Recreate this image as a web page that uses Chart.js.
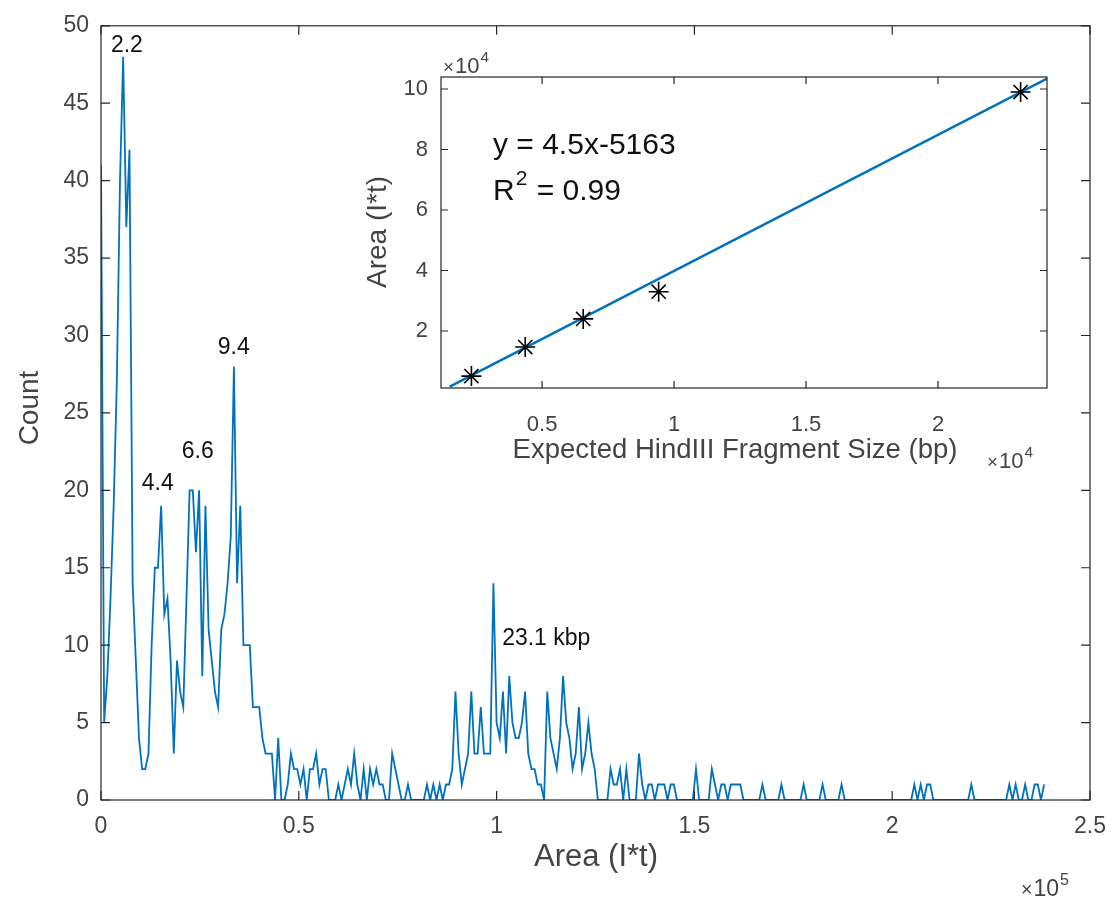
<!DOCTYPE html>
<html>
<head>
<meta charset="utf-8">
<title>HindIII fragment area histogram</title>
<script src="https://cdn.jsdelivr.net/npm/chart.js@4.4.1/dist/chart.umd.min.js"></script>
<style>
  html, body { margin: 0; padding: 0; background: #fff; }
  #wrap { position: relative; width: 1119px; height: 909px; }
  #main { position: absolute; left: 0; top: 0; }
  #inset { position: absolute; left: 340px; top: 40px; }
</style>
</head>
<body>
<div id="wrap">
  <canvas id="main" width="1119" height="909"></canvas>
  <canvas id="inset" width="740" height="440"></canvas>
</div>
<script>
// ---------------------------------------------------------------- data

// histogram of event areas (I*t), one count per bin
const binWidth = 800;
const counts = [
  41, 5, 8, 13, 19, 27, 40, 48, 37, 42,
  14, 9, 4, 2, 2, 3, 10, 15, 15, 19,
  12, 13, 9, 3, 9, 7, 6, 13, 20, 20,
  16, 20, 8, 19, 11, 9, 7, 6, 11, 12,
  14, 17, 28, 14, 19, 10, 10, 10, 6, 6,
  6, 4, 3, 3, 3, 0, 4, 0, 0, 1,
  3, 2, 2, 1, 2, 0, 2, 2, 3, 1,
  2, 2, 0, 0, 0, 1, 0, 1, 2, 1,
  3, 1, 0, 2, 0, 2, 1, 2, 1, 1,
  0, 0, 3, 2, 1, 0, 0, 1, 0, 0,
  0, 0, 0, 1, 0, 1, 0, 1, 0, 1,
  1, 2, 7, 3, 1, 2, 3, 7, 3, 3,
  6, 3, 3, 3, 14, 5, 4, 7, 3, 8,
  5, 4, 4, 5, 7, 3, 2, 2, 1, 1,
  0, 7, 4, 3, 2, 4, 8, 5, 4, 2,
  3, 6, 2, 3, 5, 3, 2, 0, 0, 0,
  0, 2, 1, 1, 2, 0, 2, 0, 0, 0,
  3, 1, 0, 1, 1, 0, 1, 1, 1, 0,
  1, 1, 0, 0, 0, 0, 0, 0, 2, 0,
  0, 0, 0, 2, 1, 0, 1, 1, 0, 1,
  1, 1, 1, 0, 0, 0, 0, 0, 0, 1,
  0, 0, 0, 0, 0, 1, 0, 0, 0, 0,
  0, 0, 1, 0, 0, 0, 0, 0, 1, 0,
  0, 0, 0, 0, 1, 0, 0, 0, 0, 0,
  0, 0, 0, 0, 0, 0, 0, 0, 0, 0,
  0, 0, 0, 0, 0, 0, 0, 1, 0, 1,
  0, 1, 1, 0, 0, 0, 0, 0, 0, 0,
  0, 0, 0, 0, 0, 1, 0, 0, 0, 0,
  0, 0, 0, 0, 0, 0, 0, 1, 0, 1,
  0, 0, 1, 0, 0, 1, 1, 0, 1
];
const mainXTicks = [0, 50000, 100000, 150000, 200000, 250000];
const mainYTicks = [0, 5, 10, 15, 20, 25, 30, 35, 40, 45, 50];

// peak labels (kbp), placed in data units
const peakLabels = ["2.2", "4.4", "6.6", "9.4", "23.1 kbp"];
const peakLabelX = [2500, 10300, 20400, 29500, 101400];
const peakLabelY = [48.7, 20.4, 22.5, 29.2, 10.4];

// calibration: expected fragment size vs measured area
const fragmentSizes = [2322, 4361, 6557, 9416, 23130];
const fragmentAreas = [5100, 14700, 24000, 33000, 99000];
const fitSlope = 4.5;
const fitIntercept = -5163;
const fitR2 = 0.99;
const fitRange = [1500, 24130];
const insetXTicks = [5000, 10000, 15000, 20000];
const insetYTicks = [20000, 40000, 60000, 80000, 100000];

// ---------------------------------------------------------------- helpers

const FONT = "'Liberation Sans', Arial, Helvetica, sans-serif";
const AXIS_COLOR = "#262626";
const LABEL_COLOR = "#444444";
const LINE_BLUE = "#0072BD";

function font(size) {
    return `${size}px ${FONT}`;
}

// "x10" with a raised exponent, left edge at (x, baseline y)
function drawPower(ctx, x, y, exp, size) {
    ctx.save();
    ctx.fillStyle = LABEL_COLOR;
    ctx.textAlign = "left";
    ctx.textBaseline = "alphabetic";
    ctx.font = font(size * 0.85);
    ctx.fillText("\u00d7", x, y);
    const w1 = ctx.measureText("\u00d7").width;
    ctx.font = font(size);
    ctx.fillText("10", x + w1 + 1, y);
    const w2 = ctx.measureText("10").width;
    ctx.font = font(size * 0.7);
    ctx.fillText(exp, x + w1 + w2 + 2, y - size * 0.5);
    ctx.restore();
}

// box round the plot area with inward tick marks on all four sides
const frameTicks = {
    id: "frameTicks",
    afterDatasetsDraw(chart, args, opts) {
        const { ctx, chartArea: a, scales: { x, y } } = chart;
        const len = opts.len || 8;
        ctx.save();
        ctx.strokeStyle = AXIS_COLOR;
        ctx.lineWidth = 1.2;
        ctx.strokeRect(a.left, a.top, a.right - a.left, a.bottom - a.top);
        ctx.beginPath();
        for (const t of x.ticks) {
            const px = x.getPixelForValue(t.value);
            ctx.moveTo(px, a.bottom);
            ctx.lineTo(px, a.bottom - len);
            ctx.moveTo(px, a.top);
            ctx.lineTo(px, a.top + len);
        }
        for (const t of y.ticks) {
            const py = y.getPixelForValue(t.value);
            ctx.moveTo(a.left, py);
            ctx.lineTo(a.left + len, py);
            ctx.moveTo(a.right, py);
            ctx.lineTo(a.right - len, py);
        }
        ctx.stroke();
        ctx.restore();
    }
};

const mainText = {
    id: "mainText",
    afterDraw(chart) {
        const { ctx, scales: { x, y } } = chart;
        ctx.save();

        // peak annotations
        ctx.fillStyle = "#111";
        ctx.font = font(23);
        ctx.textAlign = "left";
        ctx.textBaseline = "middle";
        peakLabels.forEach((txt, i) => {
            ctx.fillText(txt, x.getPixelForValue(peakLabelX[i]), y.getPixelForValue(peakLabelY[i]));
        });

        // axis titles
        ctx.fillStyle = LABEL_COLOR;
        ctx.textAlign = "center";
        ctx.font = font(31);
        ctx.fillText("Area (I*t)", 596, 857);
        ctx.save();
        ctx.translate(30, 408);
        ctx.rotate(-Math.PI / 2);
        ctx.font = font(28);
        ctx.fillText("Count", 0, 0);
        ctx.restore();

        ctx.restore();
        drawPower(ctx, 1021, 896, "5", 23);
    }
};

const insetText = {
    id: "insetText",
    afterDraw(chart) {
        const { ctx } = chart;
        ctx.save();

        ctx.fillStyle = LABEL_COLOR;
        ctx.textAlign = "center";
        ctx.textBaseline = "middle";
        ctx.font = font(27.5);
        ctx.fillText("Expected HindIII Fragment Size (bp)", 395, 410);
        ctx.save();
        ctx.translate(38, 192);
        ctx.rotate(-Math.PI / 2);
        ctx.font = font(28);
        ctx.fillText("Area (I*t)", 0, 0);
        ctx.restore();

        // fit equation
        ctx.fillStyle = "#111";
        ctx.textAlign = "left";
        ctx.font = font(30);
        const sign = fitIntercept < 0 ? "-" : "+";
        ctx.fillText(`y = ${fitSlope}x${sign}${Math.abs(fitIntercept)}`, 153, 106);
        ctx.fillText("R", 153, 152);
        const wR = ctx.measureText("R").width;
        ctx.font = font(21);
        ctx.fillText("2", 153 + wR + 1, 139);
        const w2 = ctx.measureText("2").width;
        ctx.font = font(30);
        ctx.fillText(` = ${fitR2}`, 153 + wR + w2 + 2, 152);

        ctx.restore();
        drawPower(ctx, 103, 33, "4", 22);
        drawPower(ctx, 647, 428, "4", 22);
    }
};

// ---------------------------------------------------------------- main histogram

new Chart(document.getElementById("main"), {
    type: "line",
    data: {
        datasets: [{
            data: counts.map((c, i) => ({ x: i * binWidth, y: c })),
            borderColor: LINE_BLUE,
            borderWidth: 1.8,
            pointRadius: 0,
            tension: 0,
            fill: false
        }]
    },
    options: {
        responsive: false,
        animation: false,
        layout: { padding: { top: 17, right: 27, left: 0, bottom: 0 } },
        plugins: {
            legend: { display: false },
            tooltip: { enabled: false },
            frameTicks: { len: 9 }
        },
        scales: {
            x: {
                type: "linear",
                min: 0,
                max: 250000,
                grid: { display: false, drawTicks: false },
                border: { display: false },
                afterBuildTicks: s => { s.ticks = mainXTicks.map(v => ({ value: v })); },
                afterFit: s => { s.height = 109; },
                ticks: {
                    autoSkip: false,
                    maxRotation: 0,
                    padding: 13,
                    color: LABEL_COLOR,
                    font: { family: FONT, size: 23 },
                    callback: v => String(v / 1e5)
                }
            },
            y: {
                type: "linear",
                min: 0,
                max: 50,
                grid: { display: false, drawTicks: false },
                border: { display: false },
                afterBuildTicks: s => { s.ticks = mainYTicks.map(v => ({ value: v })); },
                afterFit: s => { s.width = 101; },
                ticks: {
                    autoSkip: false,
                    padding: 12,
                    color: LABEL_COLOR,
                    font: { family: FONT, size: 23 }
                }
            }
        }
    },
    plugins: [frameTicks, mainText]
});

// ---------------------------------------------------------------- calibration inset

const fitLine = fitRange.map(v => ({ x: v, y: fitSlope * v + fitIntercept }));

new Chart(document.getElementById("inset"), {
    type: "scatter",
    data: {
        datasets: [
            {
                data: fragmentSizes.map((s, i) => ({ x: s, y: fragmentAreas[i] })),
                pointStyle: "star",
                pointRadius: 10,
                borderColor: "#000",
                backgroundColor: "#000",
                borderWidth: 1.6,
                order: 0
            },
            {
                type: "line",
                data: fitLine,
                borderColor: LINE_BLUE,
                borderWidth: 2.5,
                pointRadius: 0,
                tension: 0,
                fill: false,
                order: 1
            }
        ]
    },
    options: {
        responsive: false,
        animation: false,
        layout: { padding: { top: 37, right: 33, left: 0, bottom: 0 } },
        plugins: {
            legend: { display: false },
            tooltip: { enabled: false },
            frameTicks: { len: 7 }
        },
        scales: {
            x: {
                type: "linear",
                min: 1170,
                max: 24130,
                grid: { display: false, drawTicks: false },
                border: { display: false },
                afterBuildTicks: s => { s.ticks = insetXTicks.map(v => ({ value: v })); },
                afterFit: s => { s.height = 92; },
                ticks: {
                    autoSkip: false,
                    maxRotation: 0,
                    padding: 24,
                    color: LABEL_COLOR,
                    font: { family: FONT, size: 22 },
                    callback: v => String(v / 1e4)
                }
            },
            y: {
                type: "linear",
                min: 1160,
                max: 103970,
                grid: { display: false, drawTicks: false },
                border: { display: false },
                afterBuildTicks: s => { s.ticks = insetYTicks.map(v => ({ value: v })); },
                afterFit: s => { s.width = 101; },
                ticks: {
                    autoSkip: false,
                    padding: 13,
                    color: LABEL_COLOR,
                    font: { family: FONT, size: 22 },
                    callback: v => String(v / 1e4)
                }
            }
        }
    },
    plugins: [frameTicks, insetText]
});
</script>
</body>
</html>
